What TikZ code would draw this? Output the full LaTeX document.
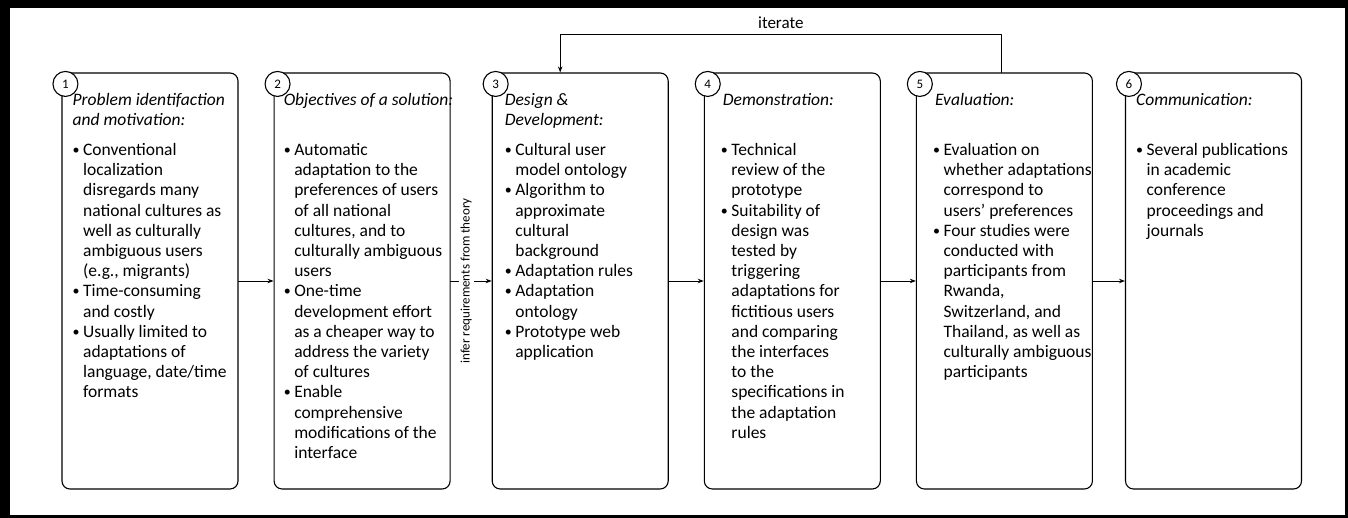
\documentclass[tikz,border=0pt]{standalone}
\usepackage{fontspec}
\setmainfont{Carlito}
\usetikzlibrary{arrows}
\usetikzlibrary{arrows.meta}
\usetikzlibrary{positioning}
\newcommand{\bl}{\makebox[10.5pt][l]{\raisebox{1pt}{\fontsize{14}{14}\selectfont\textbullet}}}
\newcommand{\nb}{\makebox[10.5pt]{}}

\begin{document}
\begin{tikzpicture}[line cap=round,line join=round,x=1pt,y=1pt,
  stage/.style={draw,line width=1.1pt,rounded corners=8pt,minimum width=176pt,minimum height=416pt,inner sep=0pt},
  num/.style={circle,draw,fill=white,line width=1.1pt,minimum size=25pt,inner sep=0pt,font=\fontsize{13}{14}\selectfont},
  head/.style={anchor=north west,inner sep=0pt,align=left,font=\fontsize{17.5}{20.2}\selectfont\itshape},
  items/.style={anchor=north west,inner sep=0pt,align=left,font=\fontsize{17.5}{20.2}\selectfont},
  flow/.style={->,>={Stealth[length=6pt,width=4.5pt]},line width=0.9pt}]
\fill[black] (0,0) rectangle (1348,518);
\fill[white] (10,2.5) rectangle (1345,510);
\useasboundingbox (0,0) rectangle (1348,518);
\node[stage] (b1) at (150,237) {};
\node[stage,right=35pt of b1] (b2) {};
\node[stage,right=41pt of b2] (b3) {};
\node[stage,right=35pt of b3] (b4) {};
\node[stage,right=35pt of b4] (b5) {};
\node[stage,right=32pt of b5] (b6) {};
\node[num] (n1) at ([shift={(4,-11.5)}]b1.north west) {1};
\node[num] (n2) at ([shift={(4,-11.5)}]b2.north west) {2};
\node[num] (n3) at ([shift={(4,-11.5)}]b3.north west) {3};
\node[num] (n4) at ([shift={(4,-11.5)}]b4.north west) {4};
\node[num] (n5) at ([shift={(4,-11.5)}]b5.north west) {5};
\node[num] (n6) at ([shift={(4,-11.5)}]b6.north west) {6};
\node[head] (h1) at ([shift={(11,-18.5)}]b1.north west) {\strut Problem identifaction\\and motivation:};
\node[items] (l1) at ([shift={(11,-68.8)}]b1.north west) {\strut\bl Conventional\\\nb localization\\\nb disregards many\\\nb national cultures as\\\nb well as culturally\\\nb ambiguous users\\\nb (e.g., migrants)\\\bl Time-consuming\\\nb and costly\\\bl Usually limited to\\\nb adaptations of\\\nb language, date/time\\\nb formats};
\node[head] (h2) at ([shift={(10,-18.5)}]b2.north west) {\strut Objectives of a solution:};
\node[items] (l2) at ([shift={(10,-68.8)}]b2.north west) {\strut\bl Automatic\\\nb adaptation to the\\\nb preferences of users\\\nb of all national\\\nb cultures, and to\\\nb culturally ambiguous\\\nb users\\\bl One-time\\\nb development effort\\\nb as a cheaper way to\\\nb address the variety\\\nb of cultures\\\bl Enable\\\nb comprehensive\\\nb modifications of the\\\nb interface};
\node[head] (h3) at ([shift={(13,-18.5)}]b3.north west) {\strut Design \&\\Development:};
\node[items] (l3) at ([shift={(13,-68.8)}]b3.north west) {\strut\bl Cultural user\\\nb model ontology\\\bl Algorithm to\\\nb approximate\\\nb cultural\\\nb background\\\bl Adaptation rules\\\bl Adaptation\\\nb ontology\\\bl Prototype web\\\nb application};
\node[head] (h4) at ([shift={(19,-18.5)}]b4.north west) {\strut Demonstration:};
\node[items] (l4) at ([shift={(17,-68.8)}]b4.north west) {\strut\bl Technical\\\nb review of the\\\nb prototype\\\bl Suitability of\\\nb design was\\\nb tested by\\\nb triggering\\\nb adaptations for\\\nb fictitious users\\\nb and comparing\\\nb the interfaces\\\nb to the\\\nb specifications in\\\nb the adaptation\\\nb rules};
\node[head] (h5) at ([shift={(19,-18.5)}]b5.north west) {\strut Evaluation:};
\node[items] (l5) at ([shift={(17,-68.8)}]b5.north west) {\strut\bl Evaluation on\\\nb whether adaptations\\\nb correspond to\\\nb users' preferences\\\bl Four studies were\\\nb conducted with\\\nb participants from\\\nb Rwanda,\\\nb Switzerland, and\\\nb Thailand, as well as\\\nb culturally ambiguous\\\nb participants};
\node[head] (h6) at ([shift={(11,-18.5)}]b6.north west) {\strut Communication:};
\node[items] (l6) at ([shift={(11,-68.8)}]b6.north west) {\strut\bl Several publications\\\nb in academic\\\nb conference\\\nb proceedings and\\\nb journals};
\draw[flow] (b1) -- (b2);
\draw[flow] (b2) -- node[pos=0.38,fill=white,rotate=90,inner sep=2pt,font=\fontsize{13}{15}\selectfont] (inf) {infer requirements from theory} (b3);
\draw[flow] (b3) -- (b4);
\draw[flow] (b4) -- (b5);
\draw[flow] (b5) -- (b6);
\draw[flow] ([xshift=-3pt]b5.north) -- ++(0,38) -| node[pos=0.25,above=2pt,font=\fontsize{17}{20}\selectfont] (it) {iterate} ([xshift=-20pt]b3.north);
\end{tikzpicture}
\end{document}
